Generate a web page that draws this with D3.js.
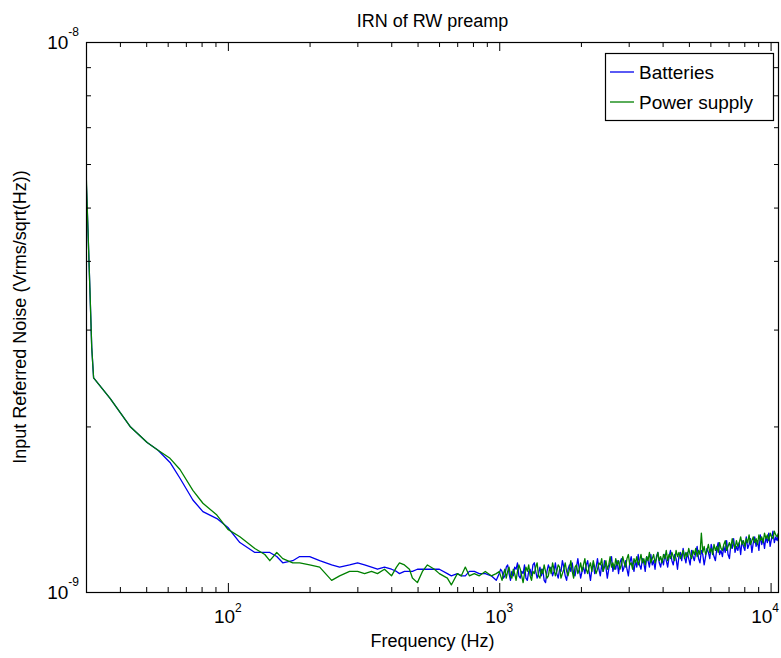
<!DOCTYPE html>
<html>
<head>
<meta charset="utf-8">
<script src="https://cdn.jsdelivr.net/npm/d3@7/dist/d3.min.js"></script>
<style>
body { margin: 0; background: #fff; }
text { font-family: Arial, "Liberation Sans", sans-serif; fill: #000; }
</style>
</head>
<body>
<svg id="chart" width="781" height="658"></svg>
<script>
// noise values are in nV/sqrt(Hz) (1 = 1e-9)
const freqLow = [30.0, 30.5, 31.0, 31.5, 32.0, 36.8, 43.6, 50.4, 55.3, 61.2,
                 66.6, 74.3, 80.9, 91.1, 100, 110.7, 125.7, 136.8, 142.7, 151.4,
                 159.3, 173.4, 183.9, 200.2, 217.9, 241.2, 258.1, 280.9, 300.6, 318.9,
                 338.3, 355.9, 377.7, 400.9, 418.2, 428.9, 447.4, 466.7, 478.7, 499.4,
                 521.2, 543.7, 576.8, 601.7, 643.9, 666.0, 700.9, 724.9, 749.9, 775.8,
                 809.4, 844.4, 888.4, 934.6, 975.0]

const battLow = [5.73, 4.57, 3.57, 2.78, 2.45, 2.25, 2.00, 1.87, 1.81, 1.72,
                 1.61, 1.47, 1.40, 1.36, 1.31, 1.23, 1.18, 1.18, 1.18, 1.16,
                 1.13, 1.14, 1.16, 1.16, 1.14, 1.12, 1.11, 1.12, 1.13, 1.12,
                 1.11, 1.10, 1.11, 1.10, 1.09, 1.08, 1.09, 1.09, 1.09, 1.10,
                 1.10, 1.10, 1.10, 1.10, 1.08, 1.07, 1.08, 1.07, 1.07, 1.09,
                 1.09, 1.08, 1.08, 1.07, 1.05]

const psLow = [5.90, 4.57, 3.57, 2.78, 2.45, 2.25, 2.00, 1.87, 1.81, 1.75,
               1.67, 1.53, 1.45, 1.38, 1.30, 1.26, 1.20, 1.17, 1.14, 1.18,
               1.15, 1.13, 1.13, 1.12, 1.11, 1.05, 1.07, 1.09, 1.09, 1.08,
               1.09, 1.08, 1.10, 1.07, 1.11, 1.13, 1.12, 1.10, 1.06, 1.04,
               1.09, 1.12, 1.10, 1.08, 1.06, 1.03, 1.08, 1.07, 1.11, 1.07,
               1.08, 1.07, 1.09, 1.07, 1.08]

const battHigh = [1.08,1.10,1.09,1.06,1.07,1.11,1.12,1.08,1.05,1.09,
                  1.07,1.11,1.10,1.13,1.07,1.06,1.09,1.08,1.12,1.06,
                  1.05,1.09,1.10,1.07,1.12,1.13,1.09,1.06,1.08,1.11,
                  1.07,1.10,1.05,1.04,1.09,1.12,1.10,1.11,1.07,1.09,
                  1.13,1.08,1.06,1.10,1.09,1.14,1.11,1.07,1.05,1.10,
                  1.12,1.09,1.13,1.08,1.07,1.11,1.15,1.10,1.06,1.09,
                  1.11,1.08,1.12,1.14,1.09,1.05,1.10,1.13,1.08,1.11,
                  1.15,1.10,1.07,1.12,1.09,1.14,1.11,1.06,1.10,1.13,
                  1.16,1.09,1.12,1.10,1.14,1.08,1.13,1.15,1.09,1.11,
                  1.14,1.10,1.07,1.13,1.16,1.12,1.09,1.14,1.11,1.17,
                  1.12,1.10,1.15,1.13,1.09,1.16,1.14,1.11,1.17,1.12,
                  1.14,1.10,1.16,1.18,1.13,1.11,1.15,1.12,1.17,1.14,
                  1.11,1.16,1.19,1.14,1.12,1.17,1.15,1.10,1.16,1.18,
                  1.14,1.20,1.16,1.13,1.18,1.15,1.12,1.19,1.16,1.14,
                  1.18,1.21,1.15,1.13,1.19,1.17,1.12,1.16,1.20,1.18,
                  1.15,1.22,1.19,1.16,1.14,1.20,1.23,1.17,1.19,1.16,
                  1.21,1.18,1.24,1.17,1.15,1.22,1.20,1.25,1.18,1.21,
                  1.19,1.23,1.17,1.24,1.21,1.19,1.26,1.20,1.22,1.25,
                  1.18,1.23,1.26,1.21,1.24,1.19,1.27,1.22,1.25,1.20,
                  1.26,1.23,1.28,1.21,1.25,1.29,1.23,1.26,1.24,1.28]

const psHigh = [1.09,1.07,1.05,1.08,1.10,1.06,1.09,1.11,1.07,1.06,
                1.10,1.08,1.05,1.09,1.12,1.10,1.07,1.04,1.08,1.11,
                1.09,1.12,1.07,1.05,1.09,1.08,1.11,1.13,1.07,1.06,
                1.10,1.08,1.12,1.09,1.06,1.07,1.11,1.08,1.13,1.10,
                1.07,1.09,1.12,1.11,1.06,1.08,1.10,1.13,1.09,1.07,
                1.10,1.14,1.09,1.06,1.11,1.12,1.08,1.10,1.13,1.09,
                1.12,1.15,1.10,1.08,1.11,1.13,1.09,1.14,1.11,1.08,
                1.10,1.13,1.12,1.15,1.09,1.11,1.14,1.10,1.12,1.16,
                1.11,1.13,1.10,1.15,1.12,1.14,1.10,1.12,1.16,1.13,
                1.11,1.15,1.17,1.12,1.13,1.10,1.15,1.13,1.16,1.12,
                1.14,1.17,1.13,1.15,1.12,1.16,1.14,1.18,1.13,1.15,
                1.17,1.13,1.15,1.18,1.14,1.16,1.13,1.17,1.15,1.19,
                1.14,1.17,1.15,1.18,1.16,1.14,1.19,1.16,1.18,1.15,
                1.17,1.19,1.15,1.18,1.16,1.20,1.17,1.15,1.19,1.17,
                1.20,1.16,1.19,1.17,1.28,1.18,1.21,1.17,1.19,1.22,
                1.18,1.20,1.17,1.22,1.19,1.21,1.18,1.23,1.20,1.19,
                1.22,1.24,1.19,1.21,1.23,1.20,1.25,1.22,1.20,1.24,
                1.21,1.23,1.26,1.22,1.24,1.21,1.25,1.23,1.27,1.22,
                1.24,1.26,1.23,1.25,1.22,1.27,1.24,1.26,1.23,1.28,
                1.25,1.27,1.24,1.28,1.26,1.25,1.29,1.27,1.26,1.28]

// frequency bins of the dense part, 1 kHz .. 10.7 kHz
const freqHigh = d3.range(battHigh.length).map(i => 1000 * Math.pow(10.7, i / (battHigh.length - 1)))

const xMajor = [100, 1000, 10000]
const xExp = ["2", "3", "4"]
const xMinor = [40, 50, 60, 70, 80, 90, 200, 300, 400, 500, 600, 700, 800, 900,
                2000, 3000, 4000, 5000, 6000, 7000, 8000, 9000]
const yMajor = [1, 10]
const yExp = ["-9", "-8"]
const yMinor = [2, 3, 4, 5, 6, 7, 8, 9]

const seriesNames = ["Batteries", "Power supply"]
const seriesColors = ["#0000ee", "#008000"]

const margin = {top: 42, bottom: 66, left: 86, right: 2}
const width = 781, height = 658

const svg = d3.select("#chart")

const x = d3.scaleLog().domain([30, 10740]).range([margin.left, width - margin.right])
const y = d3.scaleLog().domain([1, 10]).range([height - margin.bottom, margin.top])

const plotW = width - margin.left - margin.right
const plotH = height - margin.top - margin.bottom

svg.append("rect")
    .attr("x", margin.left).attr("y", margin.top)
    .attr("width", plotW).attr("height", plotH)
    .style("fill", "#fff")

svg.append("clipPath").attr("id", "clip")
    .append("rect")
    .attr("x", margin.left).attr("y", margin.top)
    .attr("width", plotW).attr("height", plotH)

const line = d3.line().x(d => x(d[0])).y(d => y(d[1]))

const series = [
    freqLow.map((f, i) => [f, battLow[i]]).concat(freqHigh.map((f, i) => [f, battHigh[i]])),
    freqLow.map((f, i) => [f, psLow[i]]).concat(freqHigh.map((f, i) => [f, psHigh[i]]))
]

svg.append("g").attr("clip-path", "url(#clip)")
    .selectAll("path.trace")
    .data(series)
    .join("path")
    .attr("class", "trace")
    .attr("d", line)
    .style("fill", "none")
    .style("stroke", (d, i) => seriesColors[i])
    .style("stroke-width", 1.3)
    .style("stroke-linejoin", "round")

// ticks pointing inward on all four sides
const bottomY = height - margin.bottom
const rightX = width - margin.right
const tickAxis = (axis, tr, vals, size) => {
    const g = svg.append("g").attr("transform", tr)
        .call(axis.tickValues(vals).tickSizeInner(-size).tickSizeOuter(0).tickFormat(""))
    g.select(".domain").remove()
    g.selectAll(".tick line").style("stroke", "#000")
}
tickAxis(d3.axisBottom(x), `translate(0,${bottomY})`, xMajor, 9)
tickAxis(d3.axisBottom(x), `translate(0,${bottomY})`, xMinor, 5)
tickAxis(d3.axisTop(x), `translate(0,${margin.top})`, xMajor, 9)
tickAxis(d3.axisTop(x), `translate(0,${margin.top})`, xMinor, 5)
tickAxis(d3.axisLeft(y), `translate(${margin.left},0)`, yMinor, 5)
tickAxis(d3.axisRight(y), `translate(${rightX},0)`, yMinor, 5)

svg.append("rect")
    .attr("x", margin.left + 0.5).attr("y", margin.top + 0.5)
    .attr("width", plotW - 1).attr("height", plotH)
    .style("fill", "none").style("stroke", "#000").style("stroke-width", 1.2)

// tick labels with exponents; the last one is pushed in so it stays on the page
const xLab = svg.selectAll("text.xlab")
    .data(xMajor)
    .join("text")
    .attr("class", "xlab")
    .attr("x", d => d === 10000 ? rightX : x(d))
    .attr("y", 623)
    .attr("text-anchor", d => d === 10000 ? "end" : "middle")
    .style("font-size", "19px")
xLab.append("tspan").text("10")
xLab.append("tspan").text((d, i) => xExp[i]).attr("dy", -11).style("font-size", "12px")

const yLab = svg.selectAll("text.ylab")
    .data(yMajor)
    .join("text")
    .attr("class", "ylab")
    .attr("x", 79)
    .attr("y", d => y(d) + 7)
    .attr("text-anchor", "end")
    .style("font-size", "19px")
yLab.append("tspan").text("10")
yLab.append("tspan").text((d, i) => yExp[i]).attr("dy", -13).style("font-size", "12px")

svg.append("text").text("IRN of RW preamp")
    .attr("x", (margin.left + rightX) / 2).attr("y", 27)
    .attr("text-anchor", "middle").style("font-size", "18px")

svg.append("text").text("Frequency (Hz)")
    .attr("x", (margin.left + rightX) / 2).attr("y", 647)
    .attr("text-anchor", "middle").style("font-size", "18px")

svg.append("text").text("Input Referred Noise (Vrms/sqrt(Hz))")
    .attr("transform", `translate(26,${(margin.top + bottomY) / 2}) rotate(-90)`)
    .attr("text-anchor", "middle").style("font-size", "18px")

// legend
const legend = svg.append("g")
legend.append("rect")
    .attr("x", 605.5).attr("y", 53.5).attr("width", 168).attr("height", 67)
    .style("fill", "#fff").style("stroke", "#000").style("stroke-width", 1.2)
const legRow = legend.selectAll("g.row")
    .data(seriesNames)
    .join("g")
    .attr("class", "row")
    .attr("transform", (d, i) => `translate(0,${72 + i * 30})`)
legRow.append("line")
    .attr("x1", 610).attr("x2", 634)
    .style("stroke", (d, i) => seriesColors[i]).style("stroke-width", 1.3)
legRow.append("text").text(d => d)
    .attr("x", 639).attr("y", 7)
    .style("font-size", "19px")
</script>
</body>
</html>
